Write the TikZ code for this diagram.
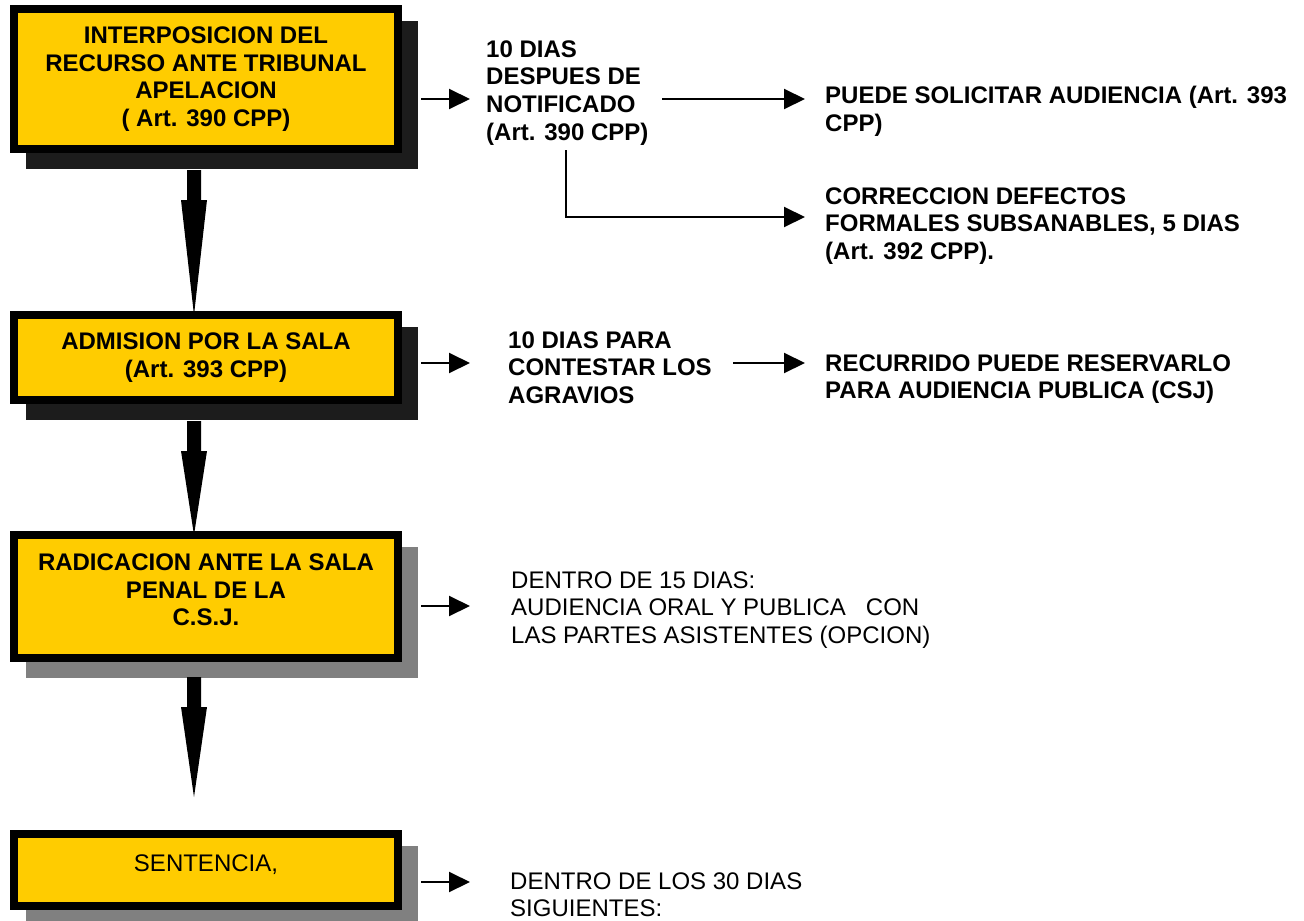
\documentclass[tikz,border=0pt]{standalone}
\usepackage{fontspec}
\setmainfont{Liberation Sans}
\usetikzlibrary{arrows.meta,calc}
\definecolor{boxyellow}{HTML}{FFCC00}
\definecolor{shdark}{HTML}{1C1C1C}
\definecolor{shgrey}{HTML}{808080}
\tikzset{
  box/.style={draw=black, line width=8pt, fill=boxyellow, minimum width=384pt,
    inner sep=0pt, outer sep=0pt, align=center,
    font=\bfseries\fontsize{24}{27.6}\selectfont},
  boxtext/.style={inner sep=0pt, align=center, font=\bfseries\fontsize{24}{27.6}\selectfont},
  boxtextreg/.style={inner sep=0pt, align=center, font=\fontsize{24}{27.6}\selectfont},
  boldnote/.style={inner sep=0pt, align=left, anchor=north west,
    font=\bfseries\fontsize{24}{27.6}\selectfont},
  regnote/.style={inner sep=0pt, align=left, anchor=north west,
    font=\fontsize{24}{27.6}\selectfont},
  sarrow/.style={line width=2pt, -{Triangle[width=20pt,length=21pt]}},
}
\begin{document}
\begin{tikzpicture}[x=1pt,y=-1pt]
\useasboundingbox[fill=white] (0,0) rectangle (1304,921);

% shadows
\fill[shdark] (26,21) rectangle (418,169);
\fill[shdark] (26,327) rectangle (418,420);
\fill[shgrey] (26,547) rectangle (418,678);
\fill[shgrey] (26,846) rectangle (418,921);

% boxes
\node[box, minimum height=140pt] (b1) at (206,79)
  {INTERPOSICION DEL\\RECURSO ANTE TRIBUNAL\\APELACION\\( Art. 390 CPP)};
\node[box, minimum height=85pt] (b2) at (206,357.5)
  {ADMISION POR LA SALA\\(Art. 393 CPP)};
\node[box, minimum height=123pt] (b3) at (206,596.5) {};
\node[boxtext] (b3t) at (206,590) {RADICACION ANTE LA SALA\\PENAL DE LA\\C.S.J.};
\node[box, minimum height=72pt] (b4) at (206,870) {};
\node[boxtextreg, anchor=base] (b4t) at (206,871) {SENTENCIA,};

% big arrows
\coordinate (a1) at (194,170);
\coordinate (a2) at (194,421);
\coordinate (a3) at (194,677);
\coordinate (a3e) at (194,797);
\fill ($(a1)+(-7,0)$) -- ($(a1)+(7,0)$) -- ($(a1)+(7,30)$) -- ($(a1)+(13,30)$)
  -- (b2.north -| a1) -- ($(a1)+(-13,30)$) -- ($(a1)+(-7,30)$) -- cycle;
\fill ($(a2)+(-7,0)$) -- ($(a2)+(7,0)$) -- ($(a2)+(7,30)$) -- ($(a2)+(13,30)$)
  -- (b3.north -| a2) -- ($(a2)+(-13,30)$) -- ($(a2)+(-7,30)$) -- cycle;
\fill ($(a3)+(-7,0)$) -- ($(a3)+(7,0)$) -- ($(a3)+(7,30)$) -- ($(a3)+(13,30)$)
  -- (a3e) -- ($(a3)+(-13,30)$) -- ($(a3)+(-7,30)$) -- cycle;

% notes
\node[boldnote] (n1) at (486,40.4) {10 DIAS\\DESPUES DE\\NOTIFICADO\\(Art. 390 CPP)};
\node[boldnote] (n2) at (825,86.2) {PUEDE SOLICITAR AUDIENCIA (Art. 393\\CPP)};
\node[boldnote] (n3) at (825,187.2) {CORRECCION DEFECTOS\\FORMALES SUBSANABLES, 5 DIAS\\(Art. 392 CPP).};
\node[boldnote] (n4) at (508,331.4) {10 DIAS PARA\\CONTESTAR LOS\\AGRAVIOS};
\node[boldnote] (n5) at (825,354.4) {RECURRIDO PUEDE RESERVARLO\\PARA AUDIENCIA PUBLICA (CSJ)};
\node[regnote] (n6) at (511,571.4) {DENTRO DE 15 DIAS:\\AUDIENCIA ORAL Y PUBLICA\ \ \ CON\\LAS PARTES ASISTENTES (OPCION)};
\node[regnote] (n7) at (510,872.4) {DENTRO DE LOS 30 DIAS\\SIGUIENTES:};

% small arrows
\coordinate (s1) at (421,99);   \coordinate (s1e) at (470,99);
\coordinate (s2) at (421,363);  \coordinate (s2e) at (470,363);
\coordinate (s3) at (421,606);  \coordinate (s3e) at (470,606);
\coordinate (s4) at (421,882);  \coordinate (s4e) at (470,882);
\draw[sarrow] (s1) -- (s1e);
\draw[sarrow] (s2) -- (s2e);
\draw[sarrow] (s3) -- (s3e);
\draw[sarrow] (s4) -- (s4e);

\coordinate (p1) at (662,99);   \coordinate (p1e) at (805,99);
\draw[sarrow] (p1) -- (p1e);
\coordinate (e1) at (566,150);  \coordinate (e1e) at (805,217);
\draw[sarrow] (e1) |- (e1e);
\coordinate (q1) at (733,363);  \coordinate (q1e) at (805,363);
\draw[sarrow] (q1) -- (q1e);
\end{tikzpicture}
\end{document}
